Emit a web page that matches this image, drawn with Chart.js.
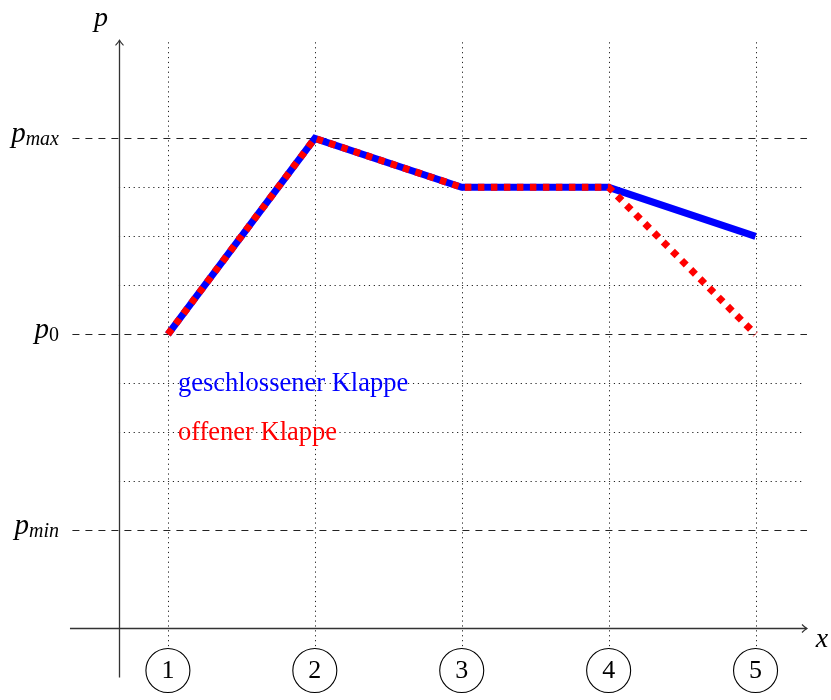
<!DOCTYPE html>
<html lang="de">
<head>
  <meta charset="UTF-8">
  <title>Druckverlauf</title>
  <script src="https://cdn.jsdelivr.net/npm/chart.js"></script>
  <style>
    html, body { margin: 0; padding: 0; background: white; }
    #wrap { width: 831px; height: 700px; position: relative; }
  </style>
</head>
<body>
<div id="wrap"><canvas id="pressureChart" width="831" height="700"></canvas></div>

<script>
  // Messstellen und Druckwerte (in Gitterschritten, x-Achse = 0)
  const stations = [1, 2, 3, 4, 5];
  const closedValues = [6, 10, 9, 9, 8];   // geschlossener Klappe
  const openValues = [6, 10, 9, 9, 6];     // offener Klappe

  // Beschriftete Druckniveaus
  const levelLabels = [
    { base: "p", sub: "max", value: 10 },
    { base: "p", sub: "0", value: 6 },
    { base: "p", sub: "min", value: 2 }
  ];
  const dottedLevels = [3, 4, 5, 7, 8, 9];

  const serif = '"Liberation Serif", "DejaVu Serif", serif';

  const axesPlugin = {
    id: "axesPlugin",
    beforeDatasetsDraw(chart) {
      const c = chart.ctx;
      const xs = chart.scales.x, ys = chart.scales.y;
      const X = v => xs.getPixelForValue(v);
      const Y = v => ys.getPixelForValue(v);

      c.save();
      // punktierte Gitterlinien
      c.strokeStyle = "#222";
      c.lineWidth = 1;
      c.setLineDash([1.2, 3.7]);
      dottedLevels.forEach(v => {
        c.beginPath();
        c.moveTo(X(2 / 3), Math.round(Y(v)) + 0.5);
        c.lineTo(X(5.33), Math.round(Y(v)) + 0.5);
        c.stroke();
      });
      stations.forEach(s => {
        c.beginPath();
        c.moveTo(Math.round(X(s)) + 0.5, Y(11.96));
        c.lineTo(Math.round(X(s)) + 0.5, Y(-0.42));
        c.stroke();
      });

      // gestrichelte Linien für p_max, p0, p_min
      c.strokeStyle = "#222";
      c.setLineDash([7, 6]);
      levelLabels.forEach(l => {
        c.beginPath();
        c.moveTo(X(0.35), Math.round(Y(l.value)) + 0.5);
        c.lineTo(X(5.35), Math.round(Y(l.value)) + 0.5);
        c.stroke();
      });

      // Achsen
      c.setLineDash([]);
      c.strokeStyle = "#333";
      c.lineWidth = 1.3;
      const ax = Math.round(X(2 / 3)) + 0.5;
      const ay = Math.round(Y(0)) + 0.5;
      c.beginPath();
      c.moveTo(ax, Y(-1));
      c.lineTo(ax, Y(12));
      c.moveTo(X(1 / 3), ay);
      c.lineTo(X(5.35), ay);
      c.stroke();
      // Pfeilspitzen
      c.lineWidth = 1.1;
      c.beginPath();
      c.moveTo(ax - 4, Y(12) + 5);
      c.quadraticCurveTo(ax - 1, Y(12) + 2, ax, Y(12));
      c.quadraticCurveTo(ax + 1, Y(12) + 2, ax + 4, Y(12) + 5);
      c.moveTo(X(5.35) - 5, ay - 4);
      c.quadraticCurveTo(X(5.35) - 2, ay - 1, X(5.35), ay);
      c.quadraticCurveTo(X(5.35) - 2, ay + 1, X(5.35) - 5, ay + 4);
      c.stroke();

      // Kreise mit Stationsnummern
      c.strokeStyle = "#000";
      c.lineWidth = 1.1;
      c.fillStyle = "#000";
      c.font = "26px " + serif;
      c.textAlign = "center";
      c.textBaseline = "middle";
      stations.forEach(s => {
        c.beginPath();
        c.arc(X(s), Y(-0.86), 22, 0, Math.PI * 2);
        c.fillStyle = "#fff";
        c.fill();
        c.stroke();
        c.fillStyle = "#000";
        c.fillText(String(s), X(s), Y(-0.86) + 1);
      });
      c.restore();
    },
    afterDraw(chart) {
      const c = chart.ctx;
      const xs = chart.scales.x, ys = chart.scales.y;
      const X = v => xs.getPixelForValue(v);
      const Y = v => ys.getPixelForValue(v);

      c.save();
      c.fillStyle = "#000";
      c.textBaseline = "alphabetic";
      // Niveaubeschriftungen p_max, p0, p_min
      levelLabels.forEach(l => {
        const subFont = l.sub === "0" ? "20px " + serif : "italic 20px " + serif;
        c.font = subFont;
        const subW = c.measureText(l.sub).width;
        c.font = "italic 29px " + serif;
        const baseW = c.measureText(l.base).width;
        const right = 59;
        const yb = Y(l.value) + 4;
        c.textAlign = "left";
        c.fillText(l.base, right - subW - baseW, yb);
        c.font = subFont;
        c.fillText(l.sub, right - subW, yb + 3);
      });
      // Achsennamen
      c.font = "italic 28px " + serif;
      c.textAlign = "center";
      c.fillText("p", 101, 26);
      c.fillText("x", 822, 647);

      // Legende im Diagramm
      c.font = "26.5px " + serif;
      c.textAlign = "left";
      c.textBaseline = "middle";
      c.fillStyle = "#0000ff";
      c.fillText("geschlossener Klappe", X(1) + 10, Y(5) + 1);
      c.fillStyle = "#ff0000";
      c.fillText("offener Klappe", X(1) + 10, Y(4) + 1);
      c.restore();
    }
  };

  new Chart(document.getElementById("pressureChart"), {
    type: "line",
    data: {
      labels: stations,
      datasets: [
        {
          label: "geschlossener Klappe",
          data: stations.map((s, i) => ({ x: s, y: closedValues[i] })),
          borderColor: "#0000ff",
          borderWidth: 7,
          pointRadius: 0,
          tension: 0,
          order: 2
        },
        {
          label: "offener Klappe",
          data: stations.map((s, i) => ({ x: s, y: openValues[i] })),
          borderColor: "#ff0000",
          borderWidth: 7,
          borderDash: [6.5, 6.5],
          borderCapStyle: "butt",
          pointRadius: 0,
          tension: 0,
          order: 1
        }
      ]
    },
    options: {
      responsive: false,
      animation: false,
      layout: { padding: { left: 21, right: 2, top: 6, bottom: 3 } },
      plugins: { legend: { display: false }, tooltip: { enabled: false } },
      scales: {
        x: { type: "linear", min: 0, max: 5.5, display: false },
        y: { type: "linear", min: -1.4, max: 12.7, display: false }
      }
    },
    plugins: [axesPlugin]
  });
</script>
</body>
</html>
